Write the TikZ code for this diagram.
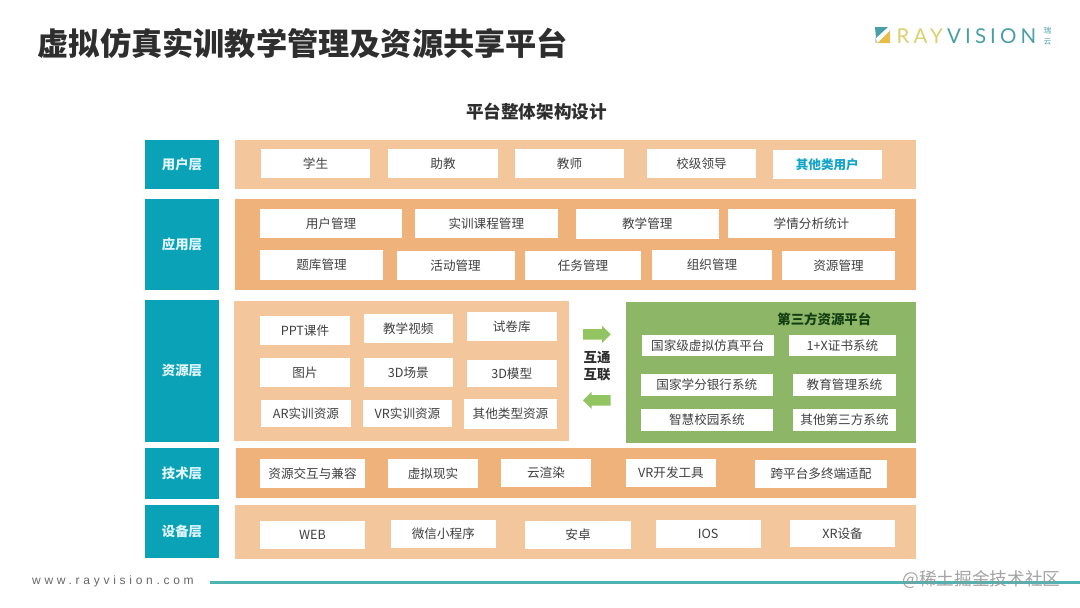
\documentclass[tikz,border=0pt]{standalone}
\usepackage{fontspec}
\setmainfont{Noto Sans CJK SC}
\newfontfamily\logofont[LetterSpace=20]{Lato}
\newfontfamily\webfont[LetterSpace=31]{Liberation Sans}
\usetikzlibrary{shapes.arrows}
\definecolor{layerteal}{HTML}{0AA2B6}
\definecolor{bandlight}{HTML}{F3C69C}
\definecolor{banddark}{HTML}{EEB27A}
\definecolor{bandgreen}{HTML}{8DB766}
\definecolor{arrowgreen}{HTML}{92C562}
\definecolor{boxtext}{HTML}{404040}
\definecolor{linkblue}{HTML}{12A5C8}
\definecolor{footline}{HTML}{4DB3B3}
\definecolor{logoyellow}{HTML}{DCCF6E}
\definecolor{logoteal}{HTML}{4A9EA8}
\definecolor{logogold}{HTML}{E8BE4A}
\tikzset{
  block/.style={inner sep=0pt,outer sep=0pt,align=center},
  sidebox/.style={block,fill=layerteal,text=white!88!cyan,font=\fontsize{13.4}{15}\selectfont\bfseries},
  whitebox/.style={block,fill=white,text=boxtext,font=\fontsize{12.6}{15}\selectfont},
  boldtext/.style={inner sep=0pt,font=\fontsize{13.4}{15}\selectfont\bfseries},
  linkarrow/.style={single arrow,fill=arrowgreen,inner sep=0pt,inner ysep=5pt,outer sep=0pt,minimum height=27.7pt,single arrow head extend=3.4pt}
}
\begin{document}
\begin{tikzpicture}[x=1pt,y=-1pt]
    \useasboundingbox (0,0) rectangle (1080,608);
    \node[inner sep=0pt,text=black!82,font=\fontsize{31.2}{34}\selectfont\bfseries] (title) at (303,43) {虚拟仿真实训教学管理及资源共享平台};
    \node[inner sep=0pt,text=black!82,font=\fontsize{17.6}{20}\selectfont\bfseries] (subtitle) at (536.5,112) {平台整体架构设计};
    % logo
    \fill[logoteal] (875,27) -- (888,27) -- (876,38) -- cycle;
    \fill[logogold] (890,30.5) -- (890,43) -- (877.5,43) -- cycle;
    \fill[black!18] (875,37) -- (878,43) -- (875,43) -- cycle;
    \node[inner sep=0pt,anchor=west,text=logoyellow,font=\fontsize{20.5}{24}\logofont] (logoray) at (896.5,36) {RAY};
    \node[inner sep=0pt,anchor=west,text=logoteal,font=\fontsize{20.5}{24}\logofont] (logovision) at (947,36) {VISION};
    \node[inner sep=0pt,text=logoteal,font=\fontsize{7.4}{9}\selectfont] (logorui) at (1047.5,30.5) {瑞};
    \node[inner sep=0pt,text=logoteal,font=\fontsize{7.4}{9}\selectfont] (logoyun) at (1047.5,41.5) {云};
    % left column
    \foreach \nm/\xa/\ya/\xb/\yb/\txt in {
      userlayer/145/140/219/189/用户层,
      applayer/145/198.5/219/290/应用层,
      reslayer/145/300/219/441.5/资源层,
      techlayer/145/448/219/499/技术层,
      devlayer/145/505/219/558/设备层}
    \node[sidebox,minimum width={(\xb-\xa)*1pt},minimum height={(\yb-\ya)*1pt}] (\nm) at ({(\xa+\xb)/2},{(\ya+\yb)/2}) {\txt};
    % bands
    \fill[bandlight] (235,140) rectangle (916,189);
    \fill[banddark] (235,198.5) rectangle (916,290);
    \fill[bandlight] (234,301) rectangle (569,441);
    \fill[bandgreen] (626,301.5) rectangle (916,443);
    \fill[banddark] (235.5,448) rectangle (916,498);
    \fill[bandlight] (235,505) rectangle (916,559);
    % white boxes
    \foreach \nm/\xa/\ya/\xb/\yb/\txt in {
      student/261/149/370/178/学生,
      assistant/388/149/498/178/助教,
      teacher/515/149/624/178/教师,
      leader/647/149/756/178/校级领导,
      usermgmt/260/208.7/402/238/用户管理,
      coursemgmt/415/208.7/557.6/238/实训课程管理,
      teachmgmt/575.5/209/719/239/教学管理,
      stats/728/208.7/895/238/学情分析统计,
      exammgmt/260/250/383/279.5/题库管理,
      activity/396.7/250.5/514.5/280/活动管理,
      taskmgmt/525/251/641/280/任务管理,
      orgmgmt/652/250/772/279.5/组织管理,
      resmgmt/782/251/895/280/资源管理,
      ppt/260/316/350/344.7/PPT课件,
      video/363.6/314/453/342.7/教学视频,
      paper/466.5/312/557/341/试卷库,
      image/260/358/350/386.7/图片,
      scene/363.6/358/453/386.7/3D场景,
      model/466.5/360/557/387.3/3D模型,
      arres/261/399.7/351/427.3/AR实训资源,
      vrres/363/399.7/452/427.3/VR实训资源,
      otherres/464/399/557/428.5/其他类型资源,
      natsim/642/334.7/773.7/356.3/国家级虚拟仿真平台,
      certx/789/334.7/896/356.3/1+X证书系统,
      credit/641/374.3/772.7/396/国家学分银行系统,
      edumgmt/793/374.3/896/396/教育管理系统,
      campus/641/408.7/772.7/430.7/智慧校园系统,
      otherthird/793/408.7/896/430.7/其他第三方系统,
      interact/260/459/365/487.7/资源交互与兼容,
      vreal/388/459/478/487.7/虚拟现实,
      cloud/501/458.5/591/487/云渲染,
      vrtool/626/458.7/716/487/VR开发工具,
      crossplat/755/459.7/887/488/跨平台多终端适配,
      web/260/520.7/365/548.7/WEB,
      wechat/390.7/519.7/496/548/微信小程序,
      android/525/520.7/631/549/安卓,
      ios/655.7/519.7/760.7/548/IOS,
      xrdev/790/519.7/895/547/XR设备}
    \node[whitebox,minimum width={(\xb-\xa)*1pt},minimum height={(\yb-\ya)*1pt}] (\nm) at ({(\xa+\xb)/2},{(\ya+\yb)/2}) {\txt};
    \node[whitebox,text=linkblue,font=\fontsize{12.6}{15}\selectfont\bfseries,minimum width=108.6pt,minimum height=29pt] (otheruser) at (827.3,164.5) {其他类用户};
    % third party and link
    \node[boldtext,text=green!20!black!85!gray] (thirdtitle) at (824.3,319) {第三方资源平台};
    \node[linkarrow,anchor=tip] (arrowout) at (610.7,334.3) {};
    \node[linkarrow,shape border rotate=180,anchor=tip] (arrowin) at (583,400.3) {};
    \node[boldtext,text=black!82] (linka) at (597,358) {互通};
    \node[boldtext,text=black!82] (linkb) at (597,375) {互联};
    % footer
    \coordinate (linestart) at (210,582.3);
    \coordinate (lineend) at (1080,582.3);
    \draw[footline,line width=2.8pt] (linestart) -- (lineend);
    \node[inner sep=0pt,anchor=west,text=black!60,font=\fontsize{12}{14}\webfont] (website) at (32,581) {www.rayvision.com};
    \node[inner sep=0pt,text=black!42,text opacity=0.85,font=\fontsize{17.7}{20}\selectfont] (watermark) at (981.5,580) {@稀土掘金技术社区};
\end{tikzpicture}
\end{document}
